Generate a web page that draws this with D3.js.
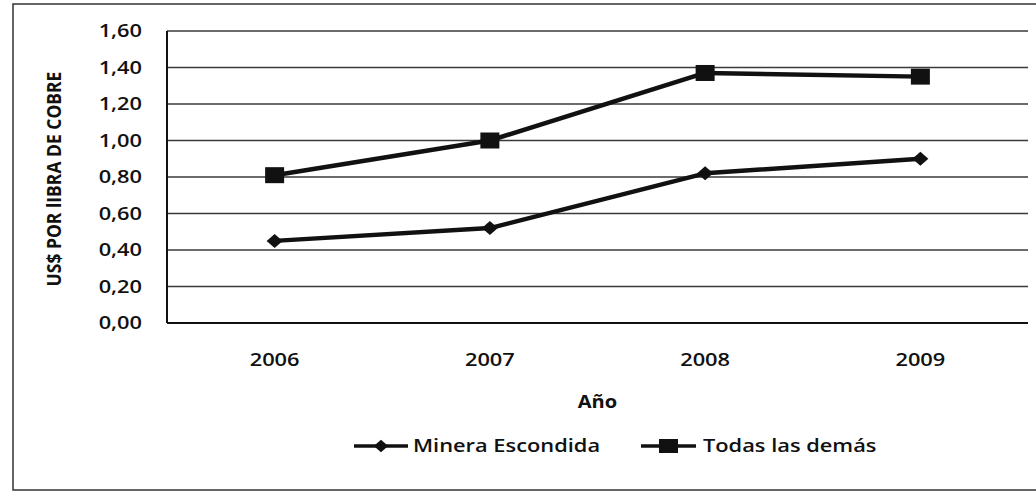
<!DOCTYPE html>
<meta charset="utf-8">
<script src="https://d3js.org/d3.v7.min.js"></script>
<style>
  body { margin: 0; background: #fff; }
  text { font-family: 'Open Sans', sans-serif; fill: #111; }
</style>
<body>
<div id="chart"></div>
<script>

// data
var years = ["2006", "2007", "2008", "2009"];
var minera = [0.45, 0.52, 0.82, 0.90];
var todas = [0.81, 1.00, 1.37, 1.35];
var yTicks = [0, 0.2, 0.4, 0.6, 0.8, 1.0, 1.2, 1.4, 1.6];
var seriesNames = ["Minera Escondida", "Todas las demás"];

var W = 1036, H = 493;
var margin = {top: 31, right: 8, bottom: 170, left: 167};
var k = 1.18; // the scan is a bit wider than tall

var svg = d3.select("#chart").append("svg")
  .attr("width", W)
  .attr("height", H);

// outer chart border
svg.append("rect")
  .attr("x", 13).attr("y", 4)
  .attr("width", 1040).attr("height", 486)
  .attr("fill", "none")
  .attr("stroke", "#333")
  .attr("stroke-width", 1.5);

var x = d3.scaleBand()
  .domain(years)
  .range([margin.left, W - margin.right]);

var y = d3.scaleLinear()
  .domain([0, 1.6])
  .range([H - margin.bottom, margin.top]);

var fmt = function(d) { return d3.format(".2f")(d).replace(".", ","); };

// gridlines
svg.append("g")
  .selectAll("line")
  .data(yTicks)
  .enter().append("line")
    .attr("x1", margin.left)
    .attr("x2", W - margin.right)
    .attr("y1", function(d) { return y(d); })
    .attr("y2", function(d) { return y(d); })
    .attr("stroke", function(d) { return d == 0 ? "#111" : "#3a3a3a"; })
    .attr("stroke-width", function(d) { return d == 0 ? 2 : 1.5; });

// left axis line
svg.append("line")
  .attr("x1", margin.left).attr("x2", margin.left)
  .attr("y1", y(1.6)).attr("y2", y(0))
  .attr("stroke", "#111")
  .attr("stroke-width", 2);

// y tick labels
svg.append("g")
  .selectAll("text")
  .data(yTicks)
  .enter().append("text")
    .attr("class", "wide")
    .attr("x", 142)
    .attr("y", function(d) { return y(d) + 6.5; })
    .attr("text-anchor", "end")
    .style("font-size", "18.5px")
    .style("font-weight", 600)
    .text(fmt);

// x labels
svg.append("g")
  .selectAll("text")
  .data(years)
  .enter().append("text")
    .attr("class", "wide")
    .attr("x", function(d) { return x(d) + x.bandwidth() / 2; })
    .attr("y", 366)
    .attr("text-anchor", "middle")
    .style("font-size", "18.5px")
    .style("font-weight", 600)
    .text(function(d) { return d; });

// axis titles
svg.append("text")
  .attr("class", "wide")
  .attr("x", (margin.left + W - margin.right) / 2)
  .attr("y", 408)
  .attr("text-anchor", "middle")
  .style("font-size", "17px")
  .style("font-weight", 700)
  .text("Año");

svg.append("text")
  .attr("transform", "translate(61,179) rotate(-90) scale(1,1.15)")
  .attr("text-anchor", "middle")
  .style("font-size", "17.5px")
  .style("font-weight", 700)
  .text("US$ POR lIBRA DE COBRE");

// lines
var line = d3.line()
  .x(function(d, i) { return x(years[i]) + x.bandwidth() / 2; })
  .y(function(d) { return y(d); });

[minera, todas].forEach(function(s) {
  svg.append("path")
    .datum(s)
    .attr("d", line)
    .attr("fill", "none")
    .attr("stroke", "#111")
    .attr("stroke-width", 4.5)
    .attr("stroke-linejoin", "round");
});

var diamond = "M0,-7L8,0L0,7L-8,0Z";

svg.append("g")
  .selectAll("path")
  .data(minera)
  .enter().append("path")
    .attr("d", diamond)
    .attr("transform", function(d, i) {
      return "translate(" + (x(years[i]) + x.bandwidth() / 2) + "," + y(d) + ")";
    })
    .attr("fill", "#111");

svg.append("g")
  .selectAll("rect")
  .data(todas)
  .enter().append("rect")
    .attr("x", function(d, i) { return x(years[i]) + x.bandwidth() / 2 - 9.5; })
    .attr("y", function(d) { return y(d) - 8; })
    .attr("width", 19)
    .attr("height", 16)
    .attr("fill", "#111");

// handmade legend
var leg = svg.append("g");
leg.append("line").attr("x1", 354).attr("x2", 408).attr("y1", 446).attr("y2", 446)
  .attr("stroke", "#111").attr("stroke-width", 3.5);
leg.append("path").attr("d", diamond).attr("transform", "translate(381,446) scale(0.9)").attr("fill", "#111");
leg.append("text").attr("class", "wide").attr("x", 413).attr("y", 452)
  .style("font-size", "18.5px").style("font-weight", 600).text(seriesNames[0]);

leg.append("line").attr("x1", 641).attr("x2", 696).attr("y1", 446).attr("y2", 446)
  .attr("stroke", "#111").attr("stroke-width", 3.5);
leg.append("rect").attr("x", 659).attr("y", 439).attr("width", 19).attr("height", 14).attr("fill", "#111");
leg.append("text").attr("class", "wide").attr("x", 703).attr("y", 452)
  .style("font-size", "18.5px").style("font-weight", 600).text(seriesNames[1]);

// stretch the text sideways around its own x
svg.selectAll("text.wide").each(function() {
  var t = d3.select(this);
  var x0 = +t.attr("x");
  t.attr("x", x0 / k).attr("transform", "scale(" + k + ",1)");
});

</script>
</body>
